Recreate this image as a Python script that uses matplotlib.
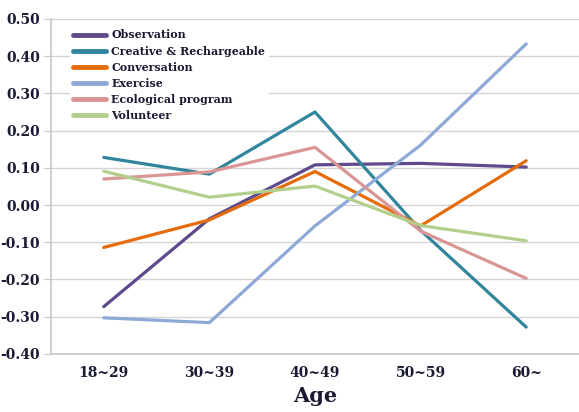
import numpy as np
import matplotlib.pyplot as plt

ages = ['18~29', '30~39', '40~49', '50~59', '60~']
observation = [-0.273, -0.037, 0.108, 0.112, 0.102]
creative = [0.128, 0.083, 0.250, -0.068, -0.328]
conversation = [-0.114, -0.040, 0.090, -0.056, 0.119]
exercise = [-0.303, -0.316, -0.056, 0.161, 0.433]
ecological = [0.070, 0.089, 0.155, -0.070, -0.197]
volunteer = [0.091, 0.021, 0.051, -0.055, -0.096]
yticks = [-0.40, -0.30, -0.20, -0.10, 0.00, 0.10, 0.20, 0.30, 0.40, 0.50]

series = [
    ('Observation', observation, '#5F4A8B'),
    ('Creative & Rechargeable', creative, '#31859C'),
    ('Conversation', conversation, '#E46C0A'),
    ('Exercise', exercise, '#8EA9D6'),
    ('Ecological program', ecological, '#D99694'),
    ('Volunteer', volunteer, '#B3CF8C'),
]

txt = '#1a1a33'
plt.rcParams['font.family'] = ['DejaVu Serif']
plt.rcParams['font.weight'] = 'bold'

fig = plt.figure(figsize=(5.79, 4.12), dpi=100)
ax = fig.add_axes([0.088, 0.141, 0.912, 0.813])

x = np.arange(len(ages))
for name, vals, col in series:
    ax.plot(x, vals, color=col, lw=2.3, label=name, solid_capstyle='round')

ax.set_xlim(-0.5, 4.5)
ax.set_ylim(-0.40, 0.50)
ax.set_yticks(yticks)
ax.set_yticklabels(['%.2f' % v for v in yticks])
ax.set_xticks(x)
ax.set_xticklabels(ages)
ax.yaxis.grid(True, color='#d4d4d4', lw=1)
ax.set_axisbelow(True)
for s in ['top', 'right']:
    ax.spines[s].set_visible(False)
for s in ['left', 'bottom']:
    ax.spines[s].set_color('#c8c8c8')
    ax.spines[s].set_linewidth(1.2)
ax.tick_params(axis='y', length=5, color='#c8c8c8', labelsize=10, labelcolor=txt, pad=3)
ax.tick_params(axis='x', length=0, labelsize=10, labelcolor=txt, pad=9)
for t in ax.get_xticklabels() + ax.get_yticklabels():
    t.set_fontweight('bold')

ax.set_xlabel('Age', fontsize=15, fontweight='bold', color=txt, labelpad=4)

leg = ax.legend(loc='upper left', bbox_to_anchor=(0.025, 0.995), frameon=True,
                fancybox=False, edgecolor='none', facecolor='white', framealpha=1,
                handlelength=3.0, handletextpad=0.5, labelspacing=0.47,
                borderpad=0.3, prop={'size': 7.9, 'weight': 'bold'})
for t in leg.get_texts():
    t.set_color(txt)
for l in leg.get_lines():
    l.set_linewidth(3.5)

fig.savefig('out.png', dpi=100)
